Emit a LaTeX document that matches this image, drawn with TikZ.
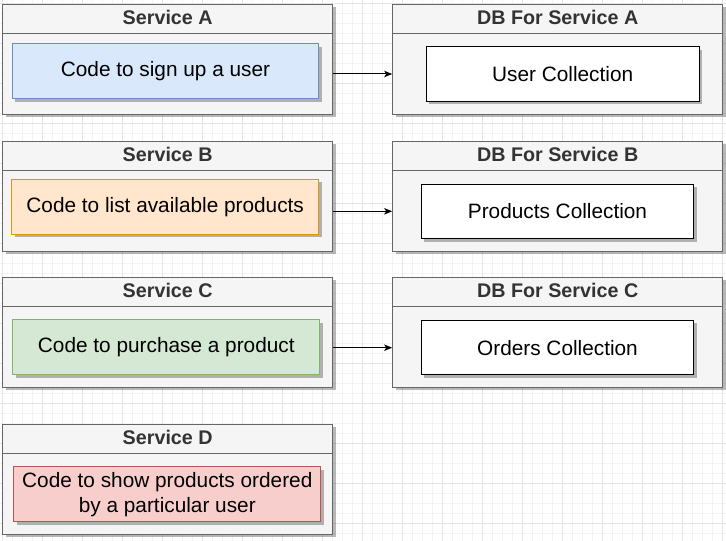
\documentclass[tikz,border=0pt]{standalone}
\usepackage{fontspec}
\setmainfont{Liberation Sans}
\usetikzlibrary{shadows,arrows.meta}
\definecolor{gridmajor}{HTML}{E4E4E4}
\definecolor{gridminor}{HTML}{F3F3F3}
\definecolor{contfill}{HTML}{F5F5F5}
\definecolor{contstroke}{HTML}{666666}
\definecolor{titlecol}{HTML}{333333}
\definecolor{bluefill}{HTML}{DAE8FC}
\definecolor{bluestroke}{HTML}{6C8EBF}
\definecolor{orangefill}{HTML}{FFE6CC}
\definecolor{orangestroke}{HTML}{D79B00}
\definecolor{greenfill}{HTML}{D5E8D4}
\definecolor{greenstroke}{HTML}{82B366}
\definecolor{redfill}{HTML}{F8CECC}
\definecolor{redstroke}{HTML}{B85450}
\begin{document}
\begin{tikzpicture}[x=0.75pt,y=-0.75pt,
  shadowed/.style={drop shadow={shadow xshift=2.25pt,shadow yshift=-2.25pt,fill=black,opacity=0.28}},
  container/.style={draw=contstroke,fill=contfill,line width=0.75pt,minimum width=247.5pt,minimum height=82.5pt,inner sep=0pt,shadowed},
  divider/.style={draw=contstroke,line width=0.75pt},
  titletext/.style={text=titlecol,font=\bfseries\fontsize{14.8}{17}\selectfont,inner sep=0pt},
  codebox/.style={line width=0.75pt,minimum width=230pt,minimum height=41.25pt,inner sep=2pt,align=center,font=\fontsize{15.6}{18.75}\selectfont,shadowed},
  dbbox/.style={draw=black,fill=white,line width=0.75pt,minimum width=204.5pt,minimum height=40.9pt,inner sep=2pt,font=\fontsize{15.6}{18.75}\selectfont,shadowed},
  link/.style={draw=black,line width=0.75pt,-{Stealth[length=6pt,width=4.8pt,inset=1.5pt]}}
]
\useasboundingbox (0,0) rectangle (726,541);
\fill[white] (0,0) rectangle (726,541);
% grid
\foreach \i in {0,...,72} \draw[gridminor,line width=0.75pt] ({2+10*\i},0) -- ({2+10*\i},541);
\foreach \i in {0,...,53} \draw[gridminor,line width=0.75pt] (0,{4+10*\i}) -- (726,{4+10*\i});
\foreach \i in {0,...,18} \draw[gridmajor,line width=0.75pt] ({2+40*\i},0) -- ({2+40*\i},541);
\foreach \i in {0,...,13} \draw[gridmajor,line width=0.75pt] (0,{4+40*\i}) -- (726,{4+40*\i});

% containers
\node[container] (sA) at (167.7,59.5) {};
\node[container] (sB) at (167.7,196.5) {};
\node[container] (sC) at (167.7,332.3) {};
\node[container] (sD) at (167.7,479.5) {};
\node[container] (dbA) at (557.7,59.5) {};
\node[container] (dbB) at (557.7,196.5) {};
\node[container] (dbC) at (557.7,332.3) {};

% header dividers and titles
\foreach \n/\t in {sA/Service A,sB/Service B,sC/Service C,sD/Service D,dbA/DB For Service A,dbB/DB For Service B,dbC/DB For Service C}{
  \draw[divider] ([yshift=-22.5pt]\n.north west) -- ([yshift=-22.5pt]\n.north east);
  \node[titletext] (\n t) at ([yshift=-10pt]\n.north) {\t};
}

% service code boxes
\node[codebox,draw=bluestroke,fill=bluefill] (cA) at (165.5,71.5) {Code to sign up a user};
\node[codebox,draw=orangestroke,fill=orangefill] (cB) at (165.2,206.8) {Code to list available products};
\node[codebox,draw=greenstroke,fill=greenfill] (cC) at (166.3,347.3) {Code to purchase a product};
\node[codebox,draw=redstroke,fill=redfill] (cD) at (167.3,494.3) {Code to show products ordered\\by a particular user};

% db collections
\node[dbbox] (uA) at (562.7,74) {User Collection};
\node[dbbox] (uB) at (557.5,211.3) {Products Collection};
\node[dbbox] (uC) at (557.5,347.7) {Orders Collection};

% connectors
\draw[link] (sA.east |- uA.center) -- (dbA.west |- uA.center);
\draw[link] (sB.east |- uB.center) -- (dbB.west |- uB.center);
\draw[link] (sC.east |- uC.center) -- (dbC.west |- uC.center);
\end{tikzpicture}
\end{document}
